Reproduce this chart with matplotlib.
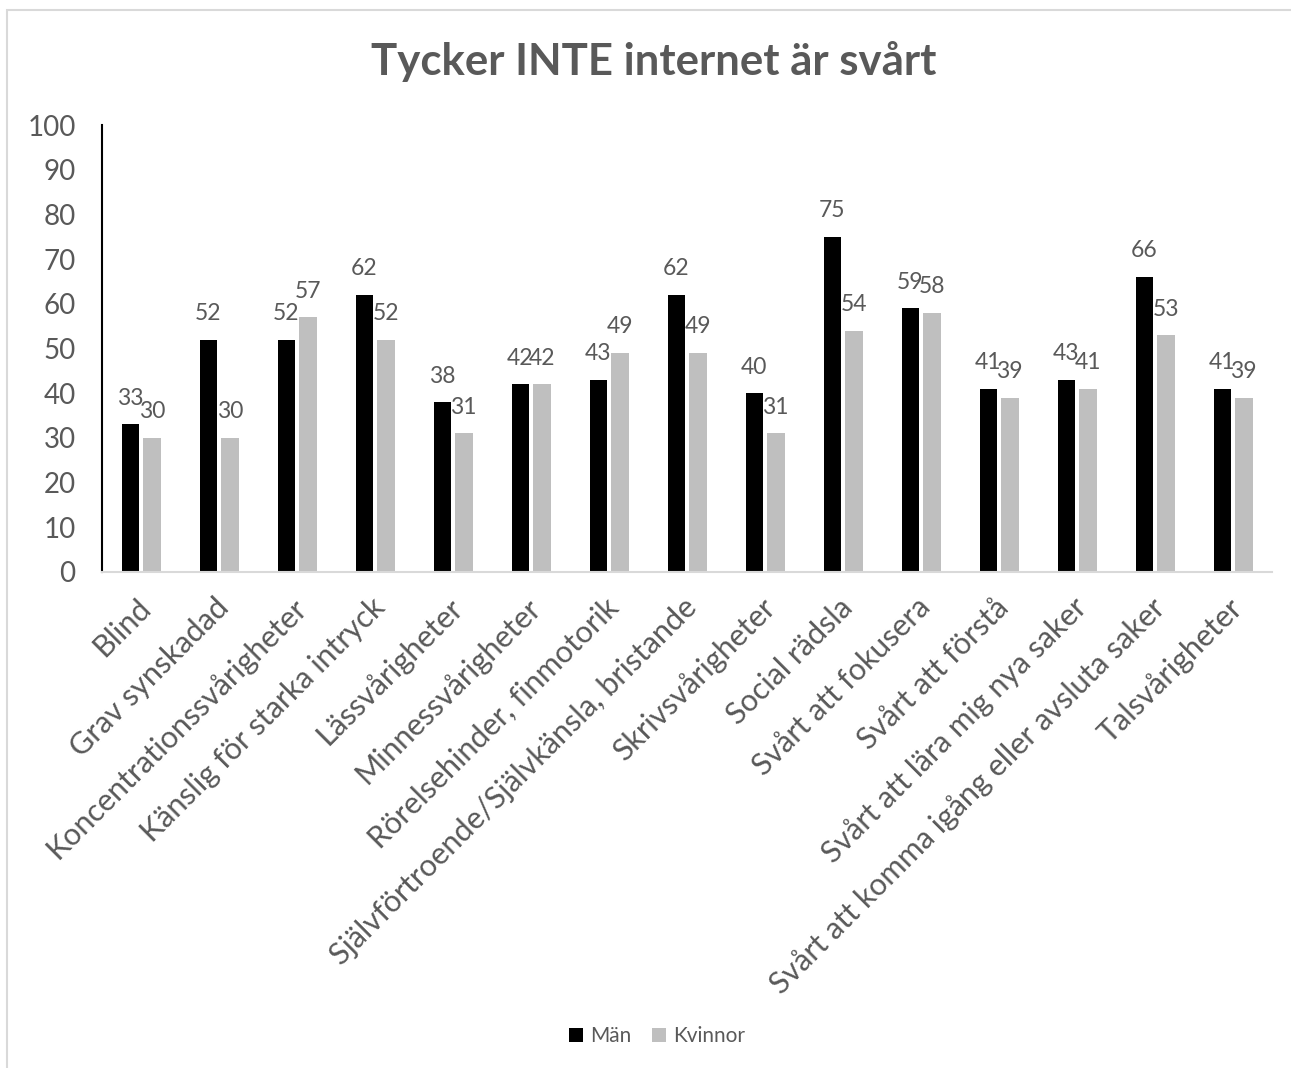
import matplotlib
matplotlib.use("Agg")
import matplotlib.pyplot as plt
from matplotlib.patches import Rectangle
import numpy as np

categories = [
    "Blind", "Grav synskadad", "Koncentrationssvårigheter",
    "Känslig för starka intryck", "Lässvårigheter", "Minnessvårigheter",
    "Rörelsehinder, finmotorik", "Självförtroende/Självkänsla, bristande",
    "Skrivsvårigheter", "Social rädsla", "Svårt att fokusera",
    "Svårt att förstå", "Svårt att lära mig nya saker",
    "Svårt att komma igång eller avsluta saker", "Talsvårigheter",
]
man = [33, 52, 52, 62, 38, 42, 43, 62, 40, 75, 59, 41, 43, 66, 41]
kvinnor = [30, 30, 57, 52, 31, 42, 49, 49, 31, 54, 58, 39, 41, 53, 39]
yticks = [0, 10, 20, 30, 40, 50, 60, 70, 80, 90, 100]
title = "Tycker INTE internet är svårt"
series_names = ["Män", "Kvinnor"]

plt.rcParams['font.family'] = ['Lato', 'DejaVu Sans']
TXT = "#595959"
W, H = 1291, 1068
fig = plt.figure(figsize=(W / 100, H / 100), dpi=100)
fig.patches.append(Rectangle((7 / W, -0.1), 1.2, 1 - 10 / H + 0.1, transform=fig.transFigure,
                             fill=False, edgecolor="#D9D9D9", linewidth=1.5))

ax = fig.add_axes([102 / W, 1 - 572 / H, (1272 - 102) / W, (572 - 125) / H])
x = np.arange(len(categories))
bw = 0.224
off = 0.138
b1 = ax.bar(x - off, man, bw, color="#000000", label=series_names[0])
b2 = ax.bar(x + off, kvinnor, bw, color="#BFBFBF", label=series_names[1])

for bars, vals in ((b1, man), (b2, kvinnor)):
    for r, v in zip(bars, vals):
        ax.annotate(str(v), (r.get_x() + r.get_width() / 2, v), xytext=(0, 26),
                    textcoords="offset pixels", ha="center", va="center",
                    fontsize=16.5, color=TXT)

ax.set_xlim(-0.5, len(categories) - 0.5)
ax.set_ylim(0, 100)
ax.set_yticks(yticks)
ax.tick_params(axis="y", length=0, pad=19, labelsize=20, labelcolor=TXT)
ax.set_xticks(x)
ax.set_xticklabels([])
ax.tick_params(axis="x", length=0)
for i, c in enumerate(categories):
    ax.annotate(c, (i, 0), xytext=(5, -31), textcoords="offset pixels",
                rotation=45, rotation_mode="anchor", ha="right", va="center",
                fontsize=22, color=TXT)

for s in ("top", "right"):
    ax.spines[s].set_visible(False)
ax.spines["left"].set_color("#000000")
ax.spines["left"].set_linewidth(1.5)
ax.spines["bottom"].set_color("#D9D9D9")
ax.spines["bottom"].set_linewidth(1.5)

fig.text(654 / W, 1 - 62 / H, title, ha="center", va="center", fontsize=31.5,
         fontweight="bold", color=TXT)

fig.legend(handles=[b1, b2], labels=series_names, loc="center",
           bbox_to_anchor=(657 / W, 1 - 1036 / H), ncol=2, frameon=False,
           fontsize=15, labelcolor=TXT, handlelength=0.65, handleheight=0.65,
           handletextpad=0.35, columnspacing=1.0)

fig.savefig("out.png", dpi=100)
